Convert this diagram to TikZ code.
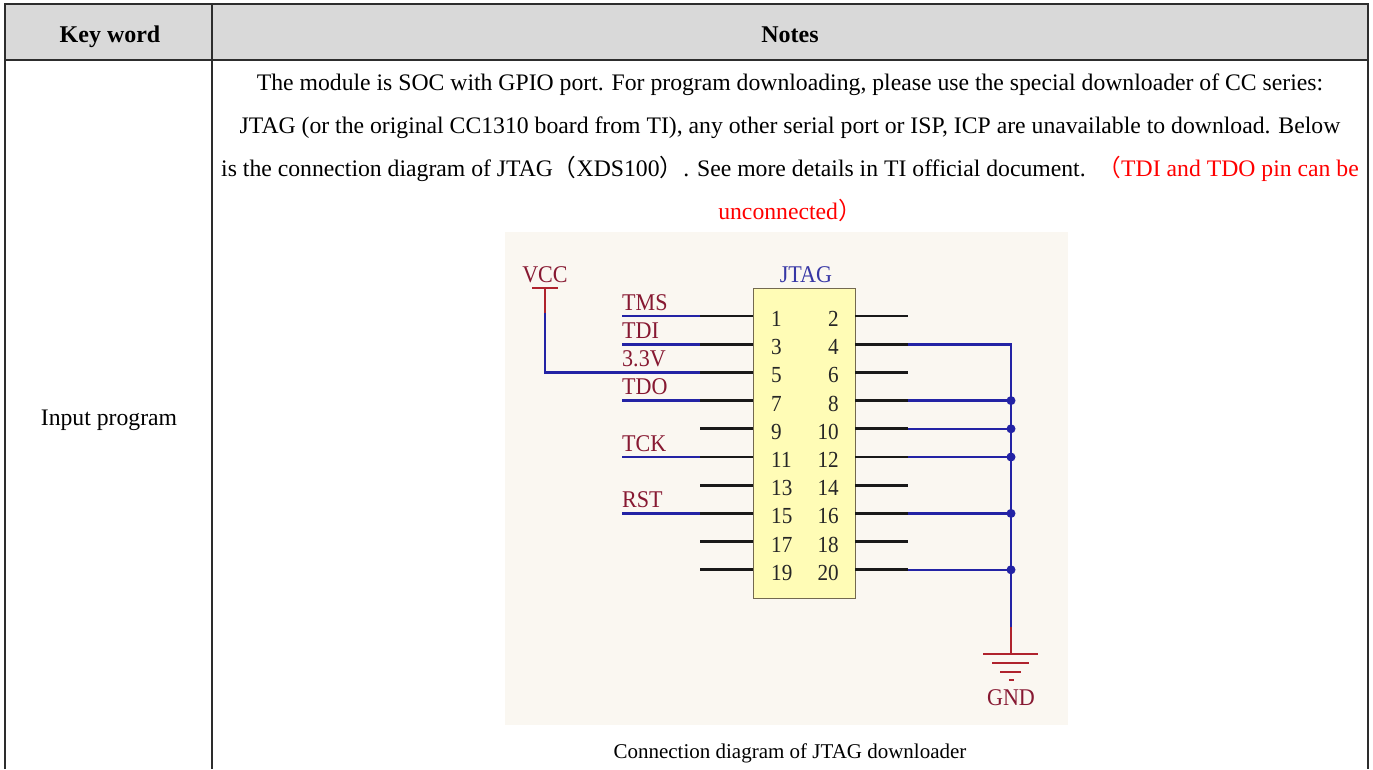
\documentclass[tikz,border=0pt]{standalone}
\usepackage{fontspec}
\setmainfont{Liberation Serif}
\newfontfamily\cjkfont{Noto Sans CJK SC}
\newfontfamily\schfont[FakeStretch=0.92]{Liberation Serif}
\definecolor{hdr}{RGB}{217,217,217}
\definecolor{grid}{RGB}{45,45,45}
\definecolor{wireblue}{RGB}{35,35,165}
\definecolor{labred}{RGB}{135,25,50}
\definecolor{symred}{RGB}{175,35,45}
\definecolor{jblue}{RGB}{55,55,165}
\definecolor{boxfill}{RGB}{255,252,182}
\definecolor{boxedge}{RGB}{115,105,80}
\definecolor{schbg}{RGB}{250,247,241}
\definecolor{notered}{RGB}{255,0,0}
\newcommand{\fwl}{{\cjkfont （}}
\newcommand{\fwr}{{\cjkfont ）}}
\begin{document}
\begin{tikzpicture}[x=1pt,y=-1pt,
  tablerule/.style={draw=grid,line width=1.4pt},
  bodytext/.style={font=\fontsize{23.7}{28}\selectfont,inner sep=0pt,anchor=base},
  hdrtext/.style={font=\bfseries\fontsize{24}{28}\selectfont,inner sep=0pt,anchor=base},
  captext/.style={font=\fontsize{21}{24}\selectfont,inner sep=0pt,anchor=base},
  schlabel/.style={font=\schfont\fontsize{24}{24}\selectfont,inner sep=0pt,text=labred,anchor=base west},
  pinnum/.style={font=\schfont\fontsize{23}{23}\selectfont,inner sep=0pt,text=black!85},
  pinwire/.style={line width=2.8pt,black!90},
  netwire/.style={line width=2.6pt,wireblue},
  redwire/.style={line width=2.6pt,symred},
  jdot/.style={fill=wireblue,draw=none,circle,minimum size=9pt,inner sep=0pt}]
\useasboundingbox (0,0) rectangle (1373,769);
\fill[white] (0,0) rectangle (1373,769);
% table
\fill[hdr] (5,4) rectangle (1368,60);
\draw[tablerule] (5,769) -- (5,4) -- (1368,4) -- (1368,769);
\draw[tablerule] (5,60) -- (1368,60);
\draw[tablerule] (212,4) -- (212,769);
\node[hdrtext] (kw) at (110,42) {Key word};
\node[hdrtext] (notes) at (790,42) {Notes};
\node[bodytext] (ip) at (109,425) {Input program};
\node[bodytext] (l1) at (790,90) {The module is SOC with GPIO port. For program downloading, please use the special downloader of CC series:};
\node[bodytext] (l2) at (790,133) {JTAG (or the original CC1310 board from TI), any other serial port or ISP, ICP are unavailable to download. Below};
\node[bodytext] (l3) at (790,176) {is the connection diagram of JTAG\fwl XDS100\fwr. See more details in TI official document.\ \ \textcolor{notered}{\fwl TDI and TDO pin can be}};
\node[bodytext,text=notered] (l4) at (790,219) {unconnected\fwr};
% schematic background
\fill[schbg] (505,232) rectangle (1068,725);
\node[draw=boxedge,line width=1.2pt,fill=boxfill,minimum width=102pt,minimum height=310pt,anchor=north west,inner sep=0pt] (jtag) at (753,288) {};
\node[font=\schfont\fontsize{24}{24}\selectfont,inner sep=0pt,text=jblue,anchor=base] (jtaglab) at (806,282) {JTAG};
% left pins
\foreach \i in {0,...,9}{
  \pgfmathtruncatemacro{\n}{2*\i+1}
  \pgfmathsetmacro{\yy}{316+28.2*\i}
  \coordinate (pl-\n) at (753,\yy);
  \coordinate (pe-\n) at (700,\yy);
  \draw[pinwire] (pe-\n) -- (pl-\n);
  \node[pinnum,anchor=west] (nl-\n) at (771,\yy+3) {\n};
}
% right pins
\foreach \i in {0,...,9}{
  \pgfmathtruncatemacro{\n}{2*\i+2}
  \pgfmathsetmacro{\yy}{316+28.2*\i}
  \coordinate (pr-\n) at (855,\yy);
  \coordinate (pre-\n) at (908,\yy);
  \draw[pinwire] (pr-\n) -- (pre-\n);
  \node[pinnum,anchor=east] (nr-\n) at (839,\yy+3) {\n};
}
% signal nets
\foreach \n/\t in {1/TMS,3/TDI,7/TDO,11/TCK,15/RST}{
  \coordinate (lab-\n) at (pe-\n -| 622,0);
  \draw[netwire] (lab-\n) -- (pe-\n);
  \node[schlabel] (t-\n) at ([yshift=6pt]lab-\n) {\t};
}
\node[schlabel] (t-5) at ([yshift=6pt]pe-5 -| 622,0) {3.3V};
% VCC
\node[font=\schfont\fontsize{24}{24}\selectfont,inner sep=0pt,text=labred,anchor=base] (vcc) at (545,282) {VCC};
\coordinate (vbl) at (532,288);
\coordinate (vbr) at (558,288);
\coordinate (vtop) at (545,288);
\coordinate (vmid) at (545,313);
\draw[redwire] (vbl) -- (vbr);
\draw[redwire] (vtop) -- (vmid);
\draw[netwire] (vmid) -- (vmid |- pe-5) -- (pe-5);
% ground net
\coordinate (gtop) at (1011,627);
\coordinate (gsym) at (1011,654);
\draw[netwire] (pre-4) -- (pre-4 -| gtop) -- (gtop);
\foreach \n in {8,10,12,16,20}{
  \draw[netwire] (pre-\n) -- (pre-\n -| gtop);
  \node[jdot] (j-\n) at (pre-\n -| gtop) {};
}
\draw[redwire] (gtop) -- (gsym);
\draw[redwire] (983,654) -- (1038,654);
\draw[redwire] (992,663) -- (1029,663);
\draw[redwire] (1000,672) -- (1021,672);
\draw[redwire] (1009,680) -- (1014,680);
\node[font=\schfont\fontsize{24}{24}\selectfont,inner sep=0pt,text=labred,anchor=base] (gnd) at (1011,705) {GND};
\node[captext] (cap) at (790,758) {Connection diagram of JTAG downloader};
\end{tikzpicture}
\end{document}
